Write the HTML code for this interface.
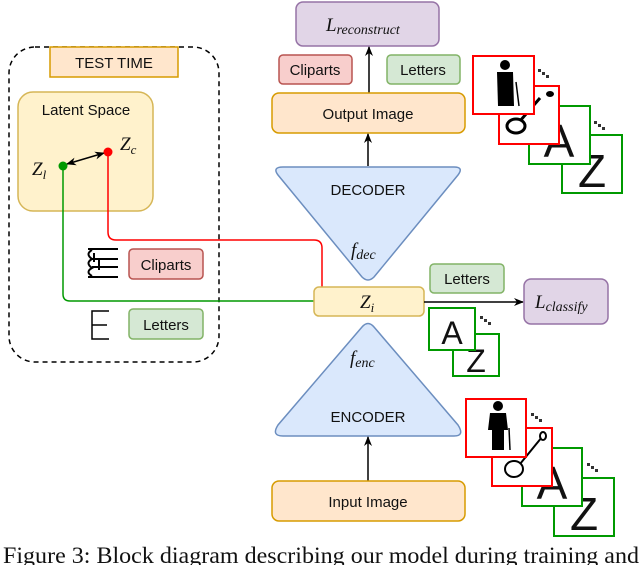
<!DOCTYPE html>
<html><head><meta charset="utf-8"><style>
html,body{margin:0;padding:0;background:#fff;}
svg{display:block;}
text{font-family:"Liberation Sans",sans-serif;fill:#111;}
.it{font-family:"Liberation Serif",serif;font-style:italic;}
</style></head><body>
<svg width="640" height="565" viewBox="0 0 640 565" xmlns="http://www.w3.org/2000/svg">
<defs>
<marker id="ah" markerWidth="10" markerHeight="10" refX="9" refY="5" orient="auto-start-reverse" markerUnits="userSpaceOnUse"><path d="M0,1 L10,5 L0,9 L3,5 z" fill="#000"/></marker>
</defs>
<rect x="9" y="47" width="210" height="315" rx="26" fill="none" stroke="#000" stroke-width="1.5" stroke-dasharray="5,4"/>
<rect x="50" y="47" width="128" height="30" fill="#ffe6cc" stroke="#d79b00" stroke-width="1.5"/>
<text x="114" y="68" font-size="15" text-anchor="middle">TEST TIME</text>
<rect x="18" y="92" width="135" height="119" rx="15" fill="#fff2cc" stroke="#d6b656" stroke-width="1.5"/>
<text x="86" y="115" font-size="15" text-anchor="middle">Latent Space</text>
<path d="M63,166 L63,294 Q63,301 70,301 L314,301" fill="none" stroke="#009900" stroke-width="1.5"/>
<path d="M108,152 L108,232 Q108,240 116,240 L314,240 Q322,240 322,248 L322,287" fill="none" stroke="#ff0000" stroke-width="1.5"/>
<line x1="67" y1="164" x2="104" y2="153" stroke="#000" stroke-width="1.5" marker-end="url(#ah)" marker-start="url(#ah)"/>
<circle cx="63" cy="166" r="4.5" fill="#009900"/>
<circle cx="108" cy="152" r="4.5" fill="#ff0000"/>
<text x="32" y="175" class="it" font-size="19">Z<tspan font-size="13" dy="4">l</tspan></text>
<text x="120" y="150" class="it" font-size="19">Z<tspan font-size="13" dy="4">c</tspan></text>
<g stroke="#000" stroke-width="2" fill="none">
<line x1="88" y1="249" x2="118" y2="249"/><line x1="92" y1="259" x2="118" y2="259"/><line x1="92" y1="267" x2="118" y2="267"/><line x1="88" y1="277" x2="118" y2="277"/>
<path d="M92,250 Q85,254 92,259 Q85,263 92,268 Q85,272 92,276"/>
<line x1="94" y1="253" x2="94" y2="262"/><line x1="99" y1="260" x2="99" y2="270"/>
</g>
<rect x="129" y="249" width="74" height="30" rx="4" fill="#f8cecc" stroke="#b85450" stroke-width="1.5"/>
<text x="166" y="270" font-size="15" text-anchor="middle">Cliparts</text>
<path d="M109,311 L92,311 L92,339 L109,339 M92,325 L107,325" fill="none" stroke="#000" stroke-width="1.5"/>
<rect x="129" y="309" width="74" height="30" rx="4" fill="#d5e8d4" stroke="#82b366" stroke-width="1.5"/>
<text x="166" y="330" font-size="15" text-anchor="middle">Letters</text>
<rect x="296" y="2" width="143" height="44" rx="7" fill="#e1d5e7" stroke="#9673a6" stroke-width="1.5"/>
<text x="326" y="31" class="it" font-size="19">L<tspan font-size="14" dy="3">reconstruct</tspan></text>
<rect x="279" y="55" width="73" height="29" rx="4" fill="#f8cecc" stroke="#b85450" stroke-width="1.5"/>
<text x="315" y="75" font-size="15" text-anchor="middle">Cliparts</text>
<rect x="387" y="55" width="73" height="29" rx="4" fill="#d5e8d4" stroke="#82b366" stroke-width="1.5"/>
<text x="423" y="75" font-size="15" text-anchor="middle">Letters</text>
<line x1="369" y1="93" x2="369" y2="47" stroke="#000" stroke-width="1.5" marker-end="url(#ah)"/>
<rect x="272" y="93" width="193" height="40" rx="7" fill="#ffe6cc" stroke="#d79b00" stroke-width="1.5"/>
<text x="368" y="119" font-size="15" text-anchor="middle">Output Image</text>
<line x1="368" y1="166" x2="368" y2="134" stroke="#000" stroke-width="1.5" marker-end="url(#ah)"/>
<path d="M283,167 L454,167 Q464,167 458,175 L374,277 Q368,283 362,277 L278,175 Q272,167 283,167 z" fill="#dae8fc" stroke="#6c8ebf" stroke-width="1.5"/>
<text x="368" y="195" font-size="15" text-anchor="middle">DECODER</text>
<text x="351" y="256" class="it" font-size="19">f<tspan font-size="14" dy="3">dec</tspan></text>
<rect x="314" y="287" width="110" height="29" rx="5" fill="#fff2cc" stroke="#d6b656" stroke-width="1.5"/>
<text x="360" y="308" class="it" font-size="19">Z<tspan font-size="13" dy="4">i</tspan></text>
<line x1="424" y1="302" x2="523" y2="302" stroke="#000" stroke-width="1.5" marker-end="url(#ah)"/>
<rect x="430" y="264" width="74" height="29" rx="4" fill="#d5e8d4" stroke="#82b366" stroke-width="1.5"/>
<text x="467" y="284" font-size="15" text-anchor="middle">Letters</text>
<rect x="524" y="279" width="84" height="45" rx="7" fill="#e1d5e7" stroke="#9673a6" stroke-width="1.5"/>
<text x="535" y="308" class="it" font-size="19">L<tspan font-size="14" dy="3">classify</tspan></text>
<rect x="453" y="334" width="46" height="42" fill="#fff" stroke="#009900" stroke-width="2"/>
<text x="476" y="372" font-size="32" text-anchor="middle">Z</text>
<rect x="429" y="308" width="46" height="42" fill="#fff" stroke="#009900" stroke-width="2"/>
<text x="452" y="344" font-size="32" text-anchor="middle">A</text>
<g fill="#333"><rect x="480" y="316" width="3" height="3"/><rect x="484" y="319" width="3" height="3"/><rect x="488" y="322" width="3" height="3"/></g>
<path d="M362,327 Q368,320 374,327 L458,425 Q465,436 454,436 L283,436 Q271,436 278,425 z" fill="#dae8fc" stroke="#6c8ebf" stroke-width="1.5"/>
<text x="368" y="422" font-size="15" text-anchor="middle">ENCODER</text>
<text x="350" y="364" class="it" font-size="19">f<tspan font-size="14" dy="3">enc</tspan></text>
<line x1="368" y1="481" x2="368" y2="437" stroke="#000" stroke-width="1.5" marker-end="url(#ah)"/>
<rect x="272" y="481" width="193" height="40" rx="7" fill="#ffe6cc" stroke="#d79b00" stroke-width="1.5"/>
<text x="368" y="507" font-size="15" text-anchor="middle">Input Image</text>
<g>
<rect x="562" y="135" width="60" height="58" fill="#fff" stroke="#009900" stroke-width="2"/>
<text x="592" y="187" font-size="46" text-anchor="middle">Z</text>
<rect x="529" y="106" width="61" height="58" fill="#fff" stroke="#009900" stroke-width="2"/>
<text x="559" y="157" font-size="46" text-anchor="middle">A</text>
<rect x="499" y="86" width="60" height="58" fill="#fff" stroke="#ff0000" stroke-width="2"/>
<path d="M507,128 Q510,122 520,121 L540,98" stroke="#000" stroke-width="3" fill="none"/>
<ellipse cx="516" cy="126" rx="9" ry="7" fill="#fff" stroke="#000" stroke-width="3"/>
<ellipse cx="550" cy="94" rx="4" ry="3" fill="#000"/>
<rect x="473" y="56" width="61" height="58" fill="#fff" stroke="#ff0000" stroke-width="2"/>
<circle cx="505" cy="65" r="5" fill="#000"/>
<path d="M497,72 L513,72 L514,106 L498,106 Z" fill="#000"/>
<line x1="516" y1="82" x2="519" y2="106" stroke="#000" stroke-width="1.5"/>
<g fill="#333"><rect x="538" y="69" width="3" height="3"/><rect x="542" y="72" width="3" height="3"/><rect x="546" y="75" width="3" height="3"/>
<rect x="594" y="121" width="3" height="3"/><rect x="598" y="124" width="3" height="3"/><rect x="602" y="127" width="3" height="3"/></g>
</g>
<g>
<rect x="554" y="478" width="60" height="58" fill="#fff" stroke="#009900" stroke-width="2"/>
<text x="584" y="530" font-size="46" text-anchor="middle">Z</text>
<rect x="522" y="448" width="60" height="58" fill="#fff" stroke="#009900" stroke-width="2"/>
<text x="552" y="499" font-size="46" text-anchor="middle">A</text>
<rect x="492" y="428" width="60" height="58" fill="#fff" stroke="#ff0000" stroke-width="2"/>
<ellipse cx="514" cy="469" rx="9" ry="8" fill="#fff" stroke="#000" stroke-width="2"/>
<line x1="520" y1="464" x2="542" y2="437" stroke="#000" stroke-width="2"/>
<ellipse cx="543" cy="436" rx="3" ry="4" fill="#fff" stroke="#000" stroke-width="2"/>
<rect x="466" y="399" width="60" height="58" fill="#fff" stroke="#ff0000" stroke-width="2"/>
<circle cx="498" cy="406" r="5" fill="#000"/>
<path d="M490,413 L506,413 L508,430 L504,430 L504,450 L492,450 L492,430 L488,430 Z" fill="#000"/>
<line x1="509" y1="428" x2="510" y2="450" stroke="#000" stroke-width="1.5"/>
<g fill="#333"><rect x="531" y="413" width="3" height="3"/><rect x="535" y="416" width="3" height="3"/><rect x="539" y="419" width="3" height="3"/>
<rect x="587" y="463" width="3" height="3"/><rect x="591" y="466" width="3" height="3"/><rect x="595" y="469" width="3" height="3"/></g>
</g>
<text x="3" y="563" font-size="23" textLength="636" lengthAdjust="spacingAndGlyphs" style="font-family:'Liberation Serif',serif">Figure 3: Block diagram describing our model during training and</text>
</svg>
</body></html>
